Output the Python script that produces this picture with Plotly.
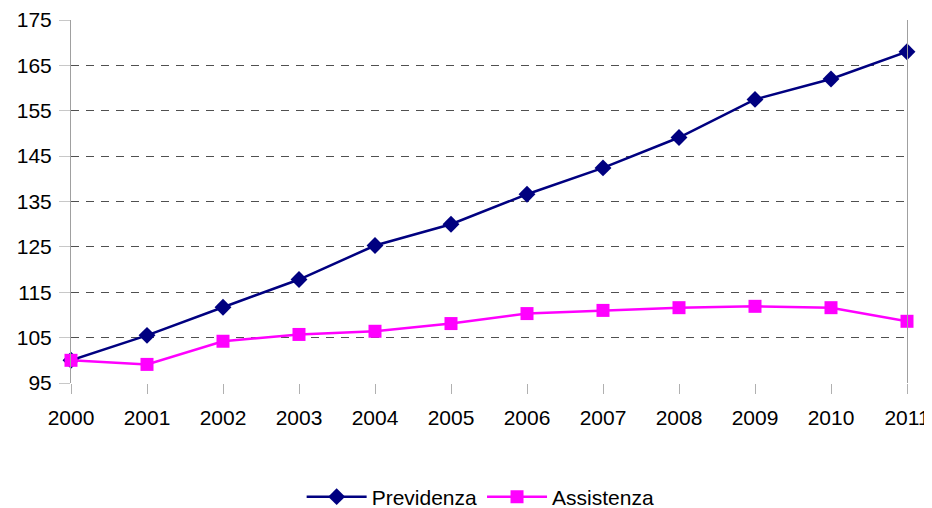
import plotly.graph_objects as go

years = [2000, 2001, 2002, 2003, 2004, 2005, 2006, 2007, 2008, 2009, 2010, 2011]
previdenza = [100, 105.5, 111.7, 117.8, 125.3, 130.0, 136.6, 142.4, 149.1, 157.5, 162.0, 168.0]
assistenza = [100, 99.1, 104.2, 105.7, 106.4, 108.1, 110.3, 111.0, 111.6, 111.9, 111.6, 108.6]
y_ticks = [95, 105, 115, 125, 135, 145, 155, 165, 175]

fig = go.Figure()
fig.add_trace(go.Scatter(
    x=years, y=previdenza, name="Previdenza", mode="lines+markers",
    line=dict(color="#000080", width=2.5),
    marker=dict(symbol="diamond", size=13, color="#000080"),
    cliponaxis=False,
))
fig.add_trace(go.Scatter(
    x=years, y=assistenza, name="Assistenza", mode="lines+markers",
    line=dict(color="#FF00FF", width=2.5),
    marker=dict(symbol="square", size=13, color="#FF00FF"),
    cliponaxis=False,
))

fig.update_layout(
    width=924, height=500,
    margin=dict(l=63, r=25, t=12, b=125, autoexpand=False),
    paper_bgcolor="white", plot_bgcolor="white",
    font=dict(family="Liberation Sans, Arial, sans-serif", size=21, color="black"),
    showlegend=True,
    legend=dict(orientation="h", x=0.49, xanchor="center", y=-0.314, yanchor="middle",
                font=dict(size=21), itemwidth=60),
    xaxis=dict(
        range=[2000, 2011], tickmode="array", tickvals=years,
        ticktext=[str(y) for y in years], automargin=False,
        showgrid=False, zeroline=False, showline=False,
        ticks="outside", ticklen=10, tickcolor="#b0b0b0", tickwidth=1,
        tickfont=dict(size=21), ticklabelstandoff=6,
    ),
    yaxis=dict(
        range=[95, 175], tickmode="array", tickvals=y_ticks, automargin=False,
        showgrid=True, gridcolor="#505050", griddash="8px,7px", gridwidth=1.3,
        zeroline=False, showline=True, mirror=True, linecolor="#a0a0a0", linewidth=1,
        ticks="outside", ticklen=11, tickcolor="#c8c8c8", tickwidth=1,
        tickfont=dict(size=21), ticklabelstandoff=3,
    ),
)

fig.write_html("out.html")
